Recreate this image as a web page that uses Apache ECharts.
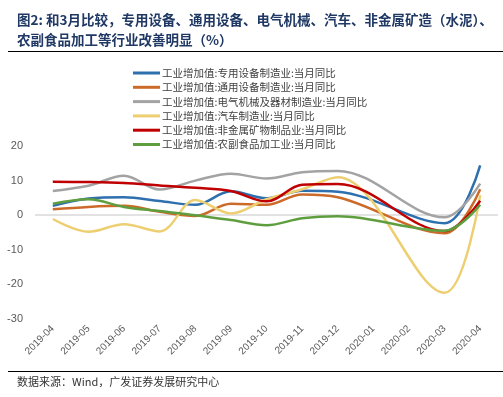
<!DOCTYPE html>
<html><head><meta charset="utf-8">
<script src="https://cdn.jsdelivr.net/npm/echarts@6/dist/echarts.min.js"></script>
<style>html,body{margin:0;padding:0;background:#fff;}#c{width:503px;height:397px;}</style>
</head><body><div id="c"></div>
<script>
const categories = ['2019-04','2019-05','2019-06','2019-07','2019-08','2019-09','2019-10','2019-11','2019-12','2020-01','2020-02','2020-03','2020-04'];
const yTicks = [-30, -20, -10, 0, 10, 20];
const seriesNames = [
  '工业增加值:专用设备制造业:当月同比',
  '工业增加值:通用设备制造业:当月同比',
  '工业增加值:电气机械及器材制造业:当月同比',
  '工业增加值:汽车制造业:当月同比',
  '工业增加值:非金属矿物制品业:当月同比',
  '工业增加值:农副食品加工业:当月同比'
];
const specialEquip = [2.7, 4.8, 5.2, 4.1, 3.0, 6.9, 4.9, 7.1, 6.8, null, null, -2.3, 14.4];
const generalEquip = [1.7, 2.4, 2.7, 1.0, -0.2, 3.3, 3.0, 6.0, 5.2, null, null, -5.2, 7.5];
const electrical   = [7.0, 8.5, 11.4, 7.4, 10.0, 12.0, 10.6, 12.4, 12.8, null, null, -0.6, 9.1];
const auto         = [-1.1, -4.8, -2.6, -4.7, 4.4, 0.5, 4.6, 7.5, 11.0, null, null, -22.4, 5.8];
const nonMetal     = [9.7, 9.6, 9.3, 8.6, 7.9, 7.0, 4.0, 8.8, 9.0, null, null, -4.6, 4.2];
const agriFood     = [3.3, 4.6, 2.4, 1.2, 0.0, -1.4, -2.9, -0.9, -0.3, null, null, -4.5, 3.0];

const values = [specialEquip, generalEquip, electrical, auto, nonMetal, agriFood];
const colors = ['#2E6FAE', '#CC6A2A', '#A3A3A3', '#EDCF72', '#C00000', '#5F9E3F'];

const chart = echarts.init(document.getElementById('c'), null, {renderer: 'canvas'});
const series = seriesNames.map((n, i) => ({
  name: n, type: 'line', data: values[i], smooth: 0.35, connectNulls: true,
  showSymbol: false, symbol: 'none',
  lineStyle: {color: colors[i], width: 2.5}, itemStyle: {color: colors[i]},
  z: 3 + i
}));
series[0].markLine = {
  silent: true, symbol: 'none', label: {show: false},
  lineStyle: {color: '#D9D9D9', width: 1.5, type: 'solid'},
  data: [{yAxis: 0}], z: 1
};
chart.setOption({
  animation: false,
  backgroundColor: '#fff',
  textStyle: {fontFamily: 'Arial, "Liberation Sans", "Noto Sans CJK SC"'},
  grid: {left: 35, right: 5, top: 146, height: 173, containLabel: false},
  legend: {
    orient: 'vertical', left: 128, top: 62,
    itemWidth: 27, itemHeight: 3, itemGap: 2.3, icon: 'rect',
    data: seriesNames,
    textStyle: {fontSize: 10.5, lineHeight: 12, color: '#404040', fontFamily: '"Noto Sans CJK SC"', padding: [0,0,0,-3]}
  },
  xAxis: {
    type: 'category', data: categories, boundaryGap: true,
    axisLine: {show: false}, axisTick: {show: false},
    axisLabel: {rotate: 45, fontSize: 10, color: '#595959', margin: 8, interval: 0, fontFamily: 'Arial, "Liberation Sans"'}
  },
  yAxis: {
    type: 'value', min: yTicks[0], max: yTicks[yTicks.length - 1], interval: 10,
    splitLine: {show: false}, axisLine: {show: false}, axisTick: {show: false},
    axisLabel: {fontSize: 11, color: '#595959', margin: 12, fontFamily: 'Arial, "Liberation Sans"'}
  },
  graphic: [
    {type: 'text', left: 17, top: 13, style: {text: '图2: 和3月比较，专用设备、通用设备、电气机械、汽车、非金属矿造（水泥）、', fontSize: 13.5, fontWeight: 'bold', fill: '#1F3864', fontFamily: '"Noto Sans CJK SC"'}},
    {type: 'text', left: 17, top: 33, style: {text: '农副食品加工等行业改善明显（%）', fontSize: 13.5, fontWeight: 'bold', fill: '#1F3864', fontFamily: '"Noto Sans CJK SC"'}},
    {type: 'line', shape: {x1: 8, y1: 51.5, x2: 503, y2: 51.5}, style: {stroke: '#000', lineWidth: 1.2}},
    {type: 'line', shape: {x1: 8, y1: 371.5, x2: 503, y2: 371.5}, style: {stroke: '#000', lineWidth: 1.2}},
    {type: 'text', left: 17, top: 376, style: {text: '数据来源：Wind，广发证券发展研究中心', fontSize: 11, fill: '#333', fontFamily: '"Noto Sans CJK SC"'}}
  ],
  series: series
});
</script></body></html>
